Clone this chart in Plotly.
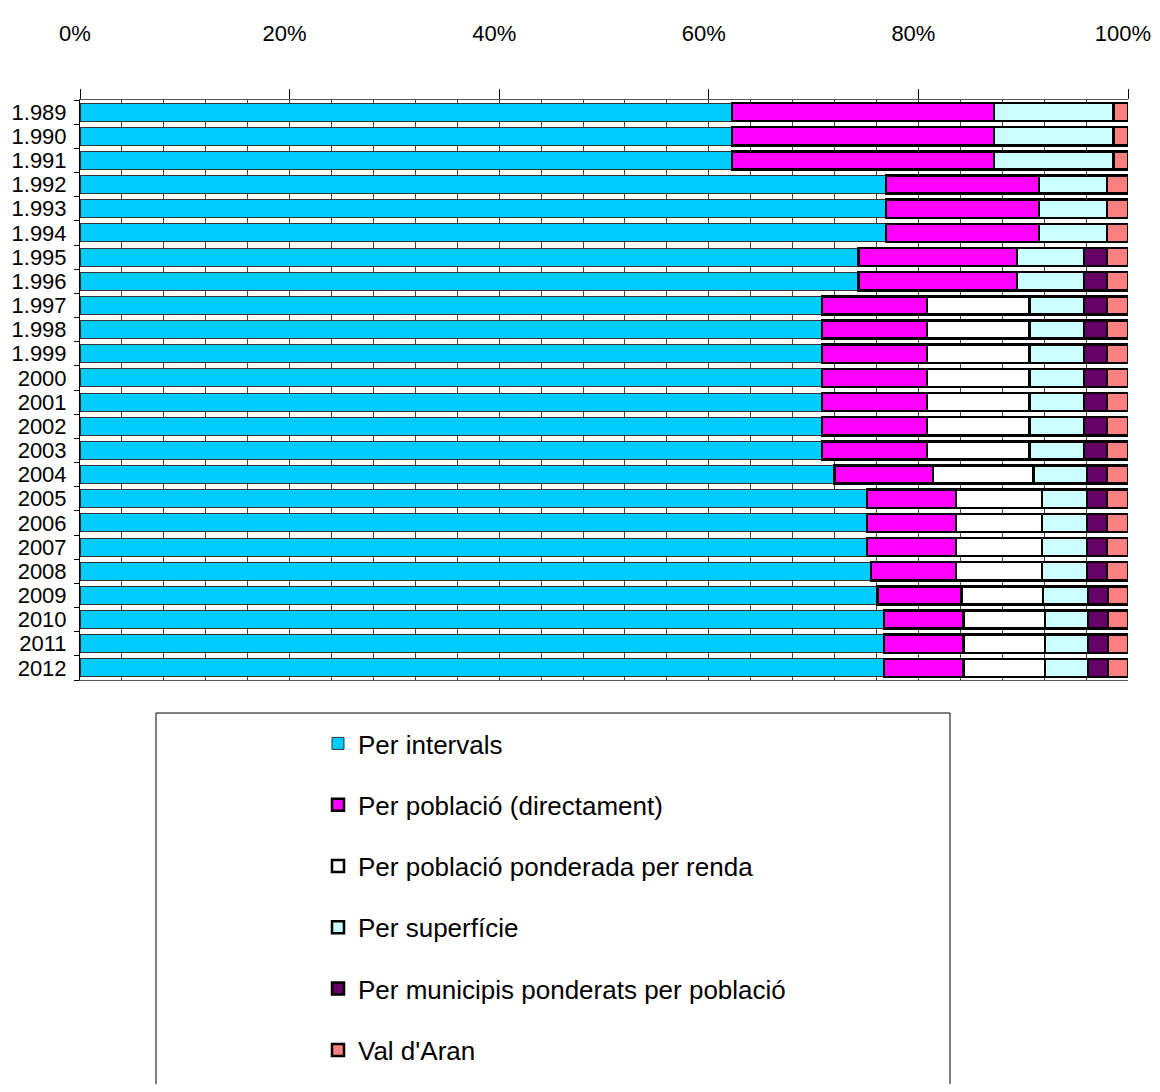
import plotly.graph_objects as go

years = ["1.989", "1.990", "1.991", "1.992", "1.993", "1.994", "1.995", "1.996",
         "1.997", "1.998", "1.999", "2000", "2001", "2002", "2003", "2004",
         "2005", "2006", "2007", "2008", "2009", "2010", "2011", "2012"]

per_intervals = [62.2, 62.2, 62.2, 76.9, 76.9, 76.9, 74.3, 74.3,
                 70.8, 70.8, 70.8, 70.8, 70.8, 70.8, 70.8, 72.0,
                 75.1, 75.1, 75.1, 75.5, 76.1, 76.7, 76.7, 76.7]
per_poblacio = [25.0, 25.0, 25.0, 14.6, 14.6, 14.6, 15.1, 15.1,
                10.0, 10.0, 10.0, 10.0, 10.0, 10.0, 10.0, 9.4,
                8.5, 8.5, 8.5, 8.1, 8.0, 7.6, 7.6, 7.6]
per_renda = [0, 0, 0, 0, 0, 0, 0, 0,
             9.8, 9.8, 9.8, 9.8, 9.8, 9.8, 9.8, 9.6,
             8.2, 8.2, 8.2, 8.2, 7.8, 7.8, 7.8, 7.8]
per_superficie = [11.4, 11.4, 11.4, 6.5, 6.5, 6.5, 6.4, 6.4,
                  5.2, 5.2, 5.2, 5.2, 5.2, 5.2, 5.2, 5.1,
                  4.3, 4.3, 4.3, 4.3, 4.3, 4.1, 4.1, 4.1]
per_municipis = [0, 0, 0, 0, 0, 0, 2.2, 2.2,
                 2.2, 2.2, 2.2, 2.2, 2.2, 2.2, 2.2, 1.9,
                 1.9, 1.9, 1.9, 1.9, 1.9, 1.9, 1.9, 1.9]
val_aran = [1.4, 1.4, 1.4, 2.0, 2.0, 2.0, 2.0, 2.0,
            2.0, 2.0, 2.0, 2.0, 2.0, 2.0, 2.0, 2.0,
            2.0, 2.0, 2.0, 2.0, 1.9, 1.9, 1.9, 1.9]

series_names = ["Per intervals", "Per població (directament)",
                "Per població ponderada per renda", "Per superfície",
                "Per municipis ponderats per població", "Val d'Aran"]
series_values = [per_intervals, per_poblacio, per_renda, per_superficie,
                 per_municipis, val_aran]
colors = ["#00CCFF", "#FF00FF", "#FFFFFF", "#CCFFFF", "#660066", "#FF8080"]
x_ticks = [0, 20, 40, 60, 80, 100]
x_tick_labels = ["0%", "20%", "40%", "60%", "80%", "100%"]

FONT = "Liberation Sans Narrow, Arial Narrow, Liberation Sans, Arial, sans-serif"

fig = go.Figure()
for i, (name, vals, col) in enumerate(zip(series_names, series_values, colors)):
    line = dict(color="#333333", width=1) if i == 0 else dict(color="#000000", width=2.5)
    fig.add_trace(go.Bar(
        y=years, x=[v if v else None for v in vals], name=name, orientation="h",
        marker=dict(color=col, line=line), legendgroup=str(i),
    ))

# plot area on the page: x 80..1128 px, y 100..680 px (page body has an 8px offset)
def px_x(p):
    return (p - 80) / 1048

def px_y(p):
    return (680 - p) / 580

fig.add_shape(type="rect", xref="paper", yref="paper",
              x0=px_x(156), x1=px_x(950), y0=px_y(713), y1=px_y(1110),
              line=dict(color="black", width=1), fillcolor="rgba(0,0,0,0)", layer="below")

fig.update_layout(
    width=1152, height=1076,
    margin=dict(l=72, r=32, t=92, b=404, autoexpand=False),
    barmode="stack", bargap=0.25,
    paper_bgcolor="white", plot_bgcolor="white",
    font=dict(family=FONT, color="black"),
    showlegend=True,
    legend=dict(
        x=px_x(318), y=px_y(720), xanchor="left", yanchor="top",
        font=dict(size=26, family=FONT, color="black"),
        traceorder="grouped", tracegroupgap=24.5,
        bgcolor="rgba(0,0,0,0)", borderwidth=0,
    ),
    xaxis=dict(
        side="top", range=[0, 100], tickmode="array",
        tickvals=x_ticks, ticktext=x_tick_labels,
        showgrid=True, gridcolor="#444444", gridwidth=1,
        minor=dict(dtick=4, tick0=0, showgrid=True, gridcolor="#444444", gridwidth=1),
        ticks="outside", ticklen=10, tickcolor="black",
        showline=True, linecolor="#555555", linewidth=1, mirror=True,
        tickfont=dict(size=22, family=FONT), ticklabelstandoff=39, ticklabelshift=-5,
        zeroline=False, automargin=False,
    ),
    yaxis=dict(
        type="category", autorange="reversed",
        tickmode="array", tickvals=years, ticktext=years,
        tickson="boundaries", ticks="outside", ticklen=5, tickcolor="black",
        showline=True, linecolor="black", linewidth=1, ticklabelstandoff=8,
        tickfont=dict(size=22, family=FONT), showgrid=False, automargin=False,
    ),
)

fig.write_html("out.html")
